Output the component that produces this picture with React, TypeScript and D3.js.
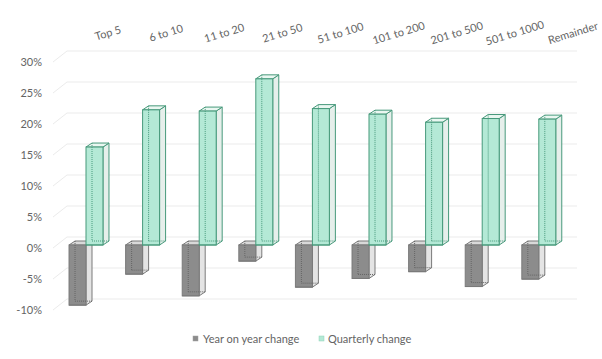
import React from "react";
import * as d3 from "d3";

const categories = ["Top 5", "6 to 10", "11 to 20", "21 to 50", "51 to 100", "101 to 200", "201 to 500", "501 to 1000", "Remainder"];
const yearOnYear = [-9.7, -4.7, -8.2, -2.6, -6.8, -5.4, -4.3, -6.7, -5.5];
const quarterly = [15.8, 21.8, 21.6, 26.8, 22.0, 21.1, 19.8, 20.4, 20.3];
const seriesNames = ["Year on year change", "Quarterly change"];
const yTicks = [-10, -5, 0, 5, 10, 15, 20, 25, 30];

const W = 602;
const H = 359;
const FONT = "Lato, 'Liberation Sans', sans-serif";
const TEXT = "#646464";

type BoxProps = {
  x: number; w: number; ya: number; yb: number; dx: number; dy: number;
  front: string; side: string; top: string; stroke: string; hidden: string;
};

function Box({ x, w, ya, yb, dx, dy, front, side, top, stroke, hidden }: BoxProps) {
  const yt = Math.min(ya, yb);
  const ybt = Math.max(ya, yb);
  const sidePts = [[x + w, yt], [x + w + dx, yt + dy], [x + w + dx, ybt + dy], [x + w, ybt]];
  const topPts = [[x, yt], [x + dx, yt + dy], [x + w + dx, yt + dy], [x + w, yt]];
  const p = (a: number[][]) => a.map((q) => q.join(",")).join(" ");
  return (
    <g>
      <polygon points={p(sidePts)} fill={side} stroke={stroke} strokeWidth={1} strokeLinejoin="round" />
      <polygon points={p(topPts)} fill={top} stroke={stroke} strokeWidth={1} strokeLinejoin="round" />
      <rect x={x} y={yt} width={w} height={ybt - yt} fill={front} stroke={stroke} strokeWidth={1} />
      <line x1={x + dx} y1={yt + dy} x2={x + dx} y2={ybt + dy} stroke={hidden} strokeWidth={1} strokeDasharray="1,1" />
      <line x1={x + dx} y1={ybt + dy} x2={x + w + dx} y2={ybt + dy} stroke={hidden} strokeWidth={1} strokeDasharray="1,1" />
      <line x1={x} y1={ybt} x2={x + w} y2={ybt} stroke={stroke} strokeWidth={1} />
    </g>
  );
}

export default function App() {
  const perUnit = 6.2;
  // three planes of the oblique 3D view
  const yFront = d3.scaleLinear().domain([0, 1]).range([248, 248 - perUnit]);
  const yBar = d3.scaleLinear().domain([0, 1]).range([245, 245 - perUnit]);
  const yWall = d3.scaleLinear().domain([0, 1]).range([237, 237 - perUnit]);
  const wallLeft = 67;
  const wallRight = 577;
  const floorLeft = 53;

  const x = d3.scaleBand<string>().domain(categories).range([57.7, 567.1]).paddingInner(0.4).paddingOuter(0.2);
  const xs = d3.scaleBand<string>().domain(seriesNames).range([0, x.bandwidth()]).padding(0);
  const xLabel = d3.scalePoint<string>().domain(categories).range([108, 573]);

  const dx = 6;
  const dy = -4;

  const styles = [
    { front: "#8c8c8c", side: "#e4e4e4", top: "#d9d9d9", stroke: "#7a7a7a", hidden: "#666666" },
    { front: "#b4e9d6", side: "#e6efeb", top: "#eaf7f1", stroke: "#47997b", hidden: "#47997b" },
  ];
  const series = [yearOnYear, quarterly];

  return (
    <svg width={W} height={H} style={{ position: "absolute", left: 0, top: 0, background: "#fff" }} fontFamily={FONT}>
      <rect x={0} y={0} width={W} height={H} fill="#fff" />
      {/* gridlines */}
      {yTicks.map((t) => (
        <g key={t}>
          <line x1={wallLeft} x2={wallRight} y1={yWall(t)} y2={yWall(t)} stroke="#ebebeb" strokeWidth={1} />
          <line x1={floorLeft} x2={wallLeft} y1={yFront(t)} y2={yWall(t)} stroke="#ebebeb" strokeWidth={1} />
          <text x={42} y={yFront(t)} dy="0.35em" textAnchor="end" fontSize={11} fill={TEXT}>
            {`${t}%`}
          </text>
        </g>
      ))}
      {/* bars */}
      {categories.map((c, i) => (
        <g key={c}>
          {seriesNames.map((s, k) => {
            const v = series[k][i];
            const st = styles[k];
            return (
              <Box
                key={s}
                x={(x(c) as number) + (xs(s) as number)}
                w={xs.bandwidth()}
                ya={yBar(0)}
                yb={yBar(v)}
                dx={dx}
                dy={dy}
                {...st}
              />
            );
          })}
        </g>
      ))}
      {/* category labels */}
      {categories.map((c) => (
        <text
          key={c}
          transform={`translate(${xLabel(c)},${33}) rotate(-17)`}
          textAnchor="middle"
          dy="0.35em"
          fontSize={11}
          fill={TEXT}
        >
          {c}
        </text>
      ))}
      {/* legend */}
      <g fontSize={11} fill={TEXT}>
        <rect x={193} y={336} width={5} height={5} fill={styles[0].front} stroke="#a0a0a0" strokeWidth={0.5} />
        <text x={203} y={339} dy="0.35em">{seriesNames[0]}</text>
        <rect x={319} y={336} width={5} height={5} fill={styles[1].front} stroke="#8fd3b8" strokeWidth={0.5} />
        <text x={328} y={339} dy="0.35em">{seriesNames[1]}</text>
      </g>
    </svg>
  );
}
